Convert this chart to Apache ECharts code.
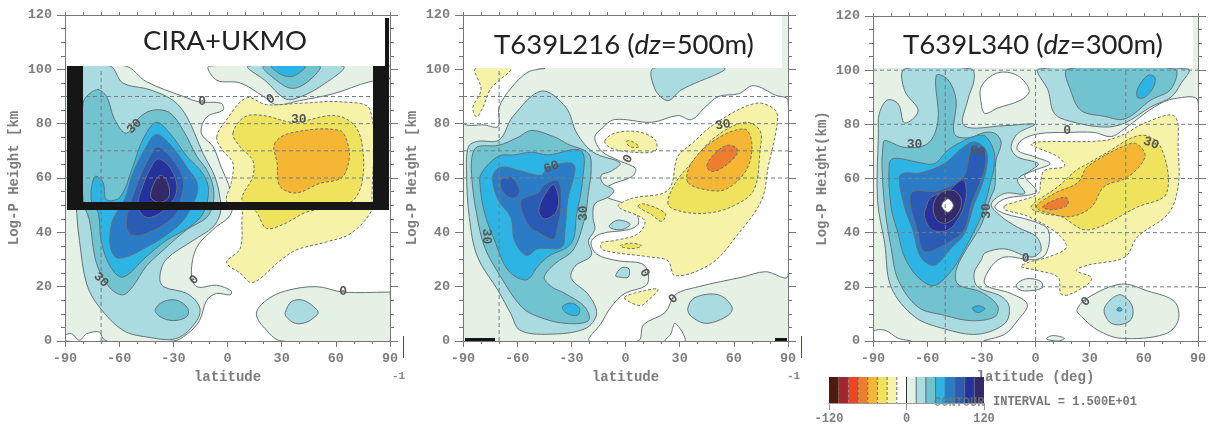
<!DOCTYPE html>
<html><head><meta charset="utf-8">
<style>html,body{margin:0;padding:0;background:#fff}#c{width:1211px;height:428px;filter:blur(0.5px)}</style>
<script src="https://cdn.jsdelivr.net/npm/echarts@6/dist/echarts.min.js"></script>
</head><body><div id="c"></div>
<script>
// ---------- colour scale ----------
const scaleEdges = [-120,-105,-90,-75,-60,-45,-30,-15,0,15,30,45,60,75,90,105];
const scaleColors = ['#4d1a10','#a5242b','#ef4526','#ee7d30','#f4b633','#efe25d','#f6f3a8','#ffffff','#e4f1e4','#a9dbe0','#70c3cf','#2bb4e4','#2a7cc6','#2a5cb5','#25319c','#352a68'];
const colourTicks = [-120,0,120];

// ---------- CIRA+UKMO contours [lat, km] ----------
const c_green_s=[[-90,101.2],[-56.5,101.2],[-45,95.5],[-24.5,90],[-15.5,88],[-3.5,87.5],[-2.5,85],[-11.5,82.5],[-14.5,76.5],[-8,71.5],[-3.5,64],[1.5,55.5],[2,47],[-8,41],[-17,34.5],[-20,25],[-17,20],[-6,20.5],[2,18.5],[1.5,17],[-6,17.5],[-11.5,15],[-15.5,7.5],[-22.5,2.5],[-30,0],[-90,0]];
const c_green_n=[[-10,101.2],[-6,96],[7,95],[20,90],[27,87],[40,88.5],[58.5,91],[79,95.5],[89,96],[90,101.2]];
const c_green_se=[[16,10],[21.5,15],[32.5,18.5],[49.5,20],[64,18],[89,18],[90,18],[90,0],[30,0],[21.5,4]];
const c_white_sw=[[-90,2],[-86.5,2.7],[-82,0.3],[-78,2.7],[-71,3.3],[-69,0.9],[-67,0],[-90,0]];
const c_15_main=[[-83.5,47],[-82,37],[-78,21],[-71,12.5],[-58,4],[-45,1.5],[-28,1],[-17,7.5],[-15.5,12.5],[-22.5,17.5],[-35.5,20],[-37.5,23.5],[-34,30],[-19,37],[-8,42],[-4,47],[-4,52],[-7,60.5],[-13.5,69],[-22.5,82.5],[-30,88.5],[-43,92.5],[-58,95],[-65,101.2],[-85,101.2],[-85,70]];
const c_30_main=[[-80,52],[-80,87.5],[-72.5,92.5],[-67,90],[-62.5,81.5],[-56,76.5],[-48.5,82.5],[-41,85],[-32,84],[-24.5,77.5],[-17,68],[-11.5,63],[-8,57],[-8,50.5],[-11.5,45.5],[-22.5,41],[-35.5,33.5],[-45,27.5],[-52.5,20],[-58,17],[-65,19.5],[-72.5,28.5],[-76.5,44.5]];
const c_30_isle=[[-40,11.5],[-35.5,14.5],[-28,15],[-22,12],[-22.5,9],[-30,7.5],[-37.5,9]];
const c_45_main=[[-75.5,52],[-73.5,60.5],[-69,58.5],[-67,52],[-59.5,53],[-52.5,64],[-47,74],[-39.5,80.5],[-32,76.5],[-22.5,68],[-13.5,61.5],[-10.5,55.5],[-13.5,47],[-21,42],[-34,37],[-45,31],[-58,23.5],[-65,27.5],[-70,37],[-71.5,47]];
const c_60_main=[[-57,52],[-52.5,61.5],[-45,71.5],[-39.5,76],[-32,72.5],[-22.5,64],[-16.5,57],[-21,48],[-28,42],[-45,34.5],[-60.5,30.5],[-65,35],[-63.5,44.5]];
const c_75_main=[[-56,42],[-55,48],[-48.5,60.5],[-43,68],[-38.5,71.5],[-30,66.5],[-24.5,59],[-26.5,50.5],[-30,45.5],[-45,39.5],[-53,39]];
const c_90_main=[[-49.5,49.5],[-47,57],[-41,65.5],[-37.5,67],[-31,63],[-28,57],[-30,52],[-37.5,47],[-45,45.5]];
const c_105_main=[[-42.5,53],[-40,59],[-36.5,61],[-33,58],[-32.5,53],[-37.5,51]];
const c_15_top=[[11.5,101.2],[21.5,95.5],[31,89.5],[36.5,89],[51,93.5],[64,101.2]];
const c_30_top=[[20,101.2],[29,95],[36.5,93],[45.5,96],[51,101.2]];
const c_45_top=[[24.5,101.2],[30,98],[36.5,97.5],[43,101.2]];
const c_15_se=[[32,10.5],[35.5,14.5],[42,15],[49.5,11.5],[50,10],[44,7],[37.5,6.5],[32.5,9]];
const c_n15=[[-6,75],[-0.5,81.5],[10.5,89.5],[21.5,87],[40,87.5],[64,88],[79,85],[80,52],[79,47],[68,39.5],[55,36.5],[38,33.5],[29,29.5],[14,21.5],[7,25],[-0.5,29],[7,34],[8,45.5],[8,48],[-0.5,51.5],[2,58],[3,65.5],[-2.5,70]];
const c_n30=[[3,76.5],[9.5,82.5],[20,83],[36.5,80.5],[58.5,83],[69.5,80],[74.5,72.5],[74.5,58.5],[68,51],[44,47.5],[31,43],[21.5,41.5],[16,47.5],[8,52],[14,60.5],[14,66.5],[7,71.5]];
const c_n45=[[26,72.5],[34.5,76.5],[62,77.5],[67,71.5],[67,65.5],[63,60],[51,58],[38,54.5],[29,57],[27.5,65.5]];

// ---------- T639L216 contours ----------
const m_base=[[-90,0],[90,0],[90,120],[-90,120]];
const m_white_nw=[[-90,100.4],[-90,80.5],[-78,79.5],[-70.5,79],[-70,86],[-63.5,93],[-54,99],[-45,100.4]];
const m_n15_nw=[[-83,100.4],[-80,92.5],[-84.5,86],[-82.5,82.5],[-79,86],[-74.5,93],[-63.5,100.4]];
const m_white_mid=[[90,88.5],[83,90.5],[71,94],[62.5,91],[51.5,90],[44,86],[36.5,81.5],[29,83],[14.5,80.5],[-6,81.5],[-13.5,78],[-17,75],[-13.5,70],[-4,66.5],[5.5,63.5],[3.5,60.5],[-9.5,57],[-11.5,53.5],[-0.5,50.5],[6,47],[7,43],[1.5,41],[-13.5,39.5],[-19,36.5],[-16,32],[-4,29.5],[9,28.5],[12.5,25],[11.5,20.5],[-0.5,17.5],[-8,12.5],[-13.5,6.5],[-20,0],[7,0],[10,6],[22,10.5],[27.5,17],[40.5,20],[64.5,23.5],[77.5,25.5],[90,24]];
const m_white_tri=[[22,0],[25,2.5],[27.5,6.5],[33,0]];
const m_15_main=[[-88,61.5],[-87,71.5],[-82,73.5],[-70,74],[-62.5,82.5],[-46.5,92],[-33,86],[-27,76.5],[-18,69.5],[-3,65.5],[-8,62.5],[-13.5,61],[-12.5,58],[-6.5,55.5],[-9.5,53],[-17,50.5],[-18,45.5],[-17,41],[-20.5,37],[-19,31.5],[-28,27.5],[-30,23],[-20.5,17],[-16,10],[-22.5,4.5],[-43,2.5],[-58.5,4],[-63.5,10],[-70.5,18.5],[-82,31],[-86.5,45.5]];
const m_15_a=[[-9,42.5],[-4,44.5],[2.5,43],[-2,41],[-8,41.5]];
const m_15_b=[[-5.5,24],[-2,27],[2,26.5],[1.5,23.5],[-3,23.5]];
const m_15_se=[[34.5,12],[38.5,16],[51.5,17],[59,12.5],[57,9.5],[45,6.5],[36.5,9]];
const m_15_top=[[15.5,100.4],[16.5,92.5],[23.5,88.5],[31,92.5],[55,100.4]];
const m_30_main=[[-85,68],[-82,71.5],[-70.5,72],[-59.5,75],[-52,77.5],[-39,75],[-32,72.5],[-20.5,69],[-19,63],[-20.5,55],[-22.5,45.5],[-29,33.5],[-39,28.5],[-45,23.5],[-41,20],[-33.5,17.5],[-22.5,12.5],[-20.5,7.5],[-33.5,6.5],[-48.5,9],[-57.5,12.5],[-69,23.5],[-78,34.5],[-82.5,47],[-85,59]];
const m_45_main=[[-80,61.5],[-70.5,68],[-61.5,68.5],[-52,69.5],[-43,68.5],[-24.5,70],[-24,58],[-27,47],[-30,36],[-43,31],[-48.5,27.5],[-55,22.5],[-65,26],[-72.5,37],[-78,47],[-80.5,57]];
const m_45_isle=[[-35,12.5],[-30,14],[-25.5,12],[-26.5,9.5],[-32,10]];
const m_60_main=[[-73.5,60.5],[-69,64],[-57.5,62.5],[-46.5,61],[-43,64],[-30,65.5],[-28,63],[-32,52],[-33.5,41],[-35.5,34.5],[-48.5,34],[-55,31.5],[-61.5,37],[-63.5,45.5],[-70.5,52]];
const m_75_left=[[-69,59],[-63.5,60.5],[-58.5,55],[-62.5,52.5],[-68,55]];
const m_75_main=[[-57.5,52],[-48.5,54.5],[-45,57.5],[-37.5,59],[-35.5,52],[-37.5,42],[-40,37.5],[-48.5,40],[-53,42],[-57,47]];
const m_90_main=[[-48,48],[-45,53.5],[-40,57.5],[-37,52],[-39,47],[-45,45]];
const m_n15=[[-4,49.5],[3.5,52.5],[23.5,55.5],[29,68],[36.5,72.5],[49.5,80],[72,87.5],[83,85],[84,80],[79,64],[75.5,52],[62.5,39.5],[47.5,28.5],[27.5,24],[23.5,29.5],[12.5,31],[-12.5,33.5],[-13.5,36],[-6,37],[7,39.5],[10.5,44.5]];
const m_n15_a=[[-11.5,73.5],[-6,76.5],[7,77],[16.5,74],[16.5,70],[3.5,69.5],[-8,71]];
const m_n15_b=[[-0.5,16],[10.5,18.5],[18,19],[12.5,15],[8,13]];
const m_n30=[[23.5,50.5],[27.5,58],[36.5,65.5],[49.5,75],[66,80.5],[74.5,77.5],[74.5,70],[71,55.5],[59,49.5],[44,47],[29,48]];
const m_n30_a=[[7,49.5],[10,50.5],[22,47],[20,44],[14.5,46.5]];
const m_n30_b=[[-3,35],[3.5,36],[9,35],[3.5,34]];
const m_n30_c=[[0.5,73.5],[3.5,73.5],[7.5,71.5],[2.5,71.5]];
const m_n45=[[34.5,58.5],[36.5,65.5],[49.5,74],[66,78],[70,72.5],[67,63],[56,56],[46,55.5]];
const m_n60=[[45,64.5],[49.5,69],[56,72],[61.5,71],[61.5,68.5],[53,63.5],[47.5,62.5]];

// ---------- T639L340 contours ----------
const r_base=[[-90,0],[90,0],[90,120],[-90,120]];
const r_white_isle=[[-30,87.5],[-30,94],[-21,99],[-10,98],[-3.5,92.5],[-8,89],[-21,86],[-28,84]];
const r_white_mid=[[90,88.5],[77,89.5],[66,86.5],[49.5,78.5],[42,75.5],[32.5,77],[18,77],[1.5,76.5],[-8,74],[-10,70.5],[-0.5,68],[8,65.5],[-0.5,63],[-6,61],[0.5,55],[-17,52.5],[-22.5,49.5],[-17,47],[-2.5,44.5],[7,41],[6,32.5],[-0.5,30],[-17,31],[-24.5,27.5],[-28,21],[-13.5,17.5],[-4.5,13.5],[-10,7.5],[-17,2.5],[-28,0],[90,0]];
const r_green_se=[[23,11.5],[29,16],[47.5,21],[62,18.5],[77,14.5],[79,7.5],[71.5,2.5],[47.5,1],[34.5,4],[25.5,9]];
const r_green_oval=[[-10.5,21],[-5,23],[3,22],[3.5,19.5],[-6,18.5],[-10,19.5]];
const r_green_foot=[[6,0.8],[9.5,2],[16,1],[12.5,0]];
const r_white_sw=[[-90,3.5],[-83.5,4],[-76,1],[-69,0],[-90,0]];
const r_15_main=[[-87,76.5],[-86.5,84],[-82,89],[-76,87.5],[-72.5,80.5],[-65,85],[-72.5,92.5],[-72.5,100.4],[-35.5,100.4],[-34,96.5],[-37.5,89],[-39.5,79.5],[-17,79.5],[-0.5,80],[-10,76.5],[-13.5,71.5],[-10,68],[1.5,65.5],[-2.5,63],[-10,59.5],[-6,54.5],[-17,54.5],[-24.5,50.5],[-19,46],[-10,42],[0.5,38.5],[3,33.5],[-2.5,31],[-17,34],[-28,32.5],[-30,30],[-34,25],[-32,20],[-19,16.5],[-14.5,12.5],[-17,6.5],[-32,2.5],[-50.5,4.5],[-67,9],[-80,20],[-83.5,36],[-87.5,52]];
const r_15_top=[[2,100.4],[7,92.5],[10.5,84],[20,81],[38,79],[49.5,80.5],[64,86.5],[75,90],[80.5,95],[84.5,100.4]];
const r_15_se=[[38,11.5],[42,15.5],[47.5,17],[53.5,13],[53,8],[46.5,6],[41,7]];
const r_30_main=[[-84.5,71.5],[-83.5,74],[-72.5,71.5],[-59.5,73],[-54,81.5],[-55,98],[-48.5,96.5],[-44,89],[-45,76.5],[-37.5,75],[-28,77],[-22,76.5],[-19,73],[-22,66.5],[-22.5,57],[-25.5,52],[-29,44.5],[-32,40.5],[-39.5,32.5],[-44,26],[-43,21],[-30,18],[-21,13],[-22.5,9],[-35.5,7.5],[-50.5,9.5],[-65,12.5],[-76,22.5],[-80,34.5],[-83.5,49.5],[-85,64.5]];
const r_30_top=[[18,100.4],[20,91.5],[25.5,85],[38,83],[49.5,82],[64,89],[75,93],[77,100.4]];
const r_45_main=[[-81,65.5],[-78,67.5],[-65,66],[-56,65.5],[-48.5,70.5],[-41,73.5],[-34,75.5],[-27.5,75.5],[-22.5,68],[-25.5,57],[-28,50.5],[-30,46],[-39.5,33.5],[-46.5,26],[-56,20.5],[-65,23.5],[-72.5,31],[-76,39.5],[-80,49.5]];
const r_45_isle=[[-35,12],[-32,13],[-28,12],[-32,10.5]];
const r_45_top=[[56.5,90],[56.5,93],[62,98],[66,97.5],[65.5,94],[60.5,90]];
const r_45_dot=[[45,11.5],[46.5,12.5],[48,11.5],[46.5,11]];
const r_60_main=[[-75.5,60.5],[-72.5,62],[-64,62],[-50.5,65.5],[-41,71],[-34,73.5],[-27.5,70.5],[-27,64.5],[-30,57],[-34,50.5],[-39.5,39.5],[-46.5,34.5],[-56,28],[-63.5,31],[-68,41],[-72.5,49.5]];
const r_75_main=[[-69,54.5],[-54,55.5],[-40,60.5],[-35.5,70.5],[-29,71],[-27.5,65.5],[-31,58],[-35.5,50.5],[-39.5,41],[-50.5,35.5],[-61.5,33],[-65,39.5]];
const r_90_main=[[-60.5,49.5],[-58,53],[-48.5,55.5],[-40,59.5],[-38.5,53],[-42,46],[-48.5,41],[-57,41],[-61.5,46]];
const r_105_main=[[-56.5,50.5],[-52,55],[-45,55.5],[-41,52],[-43,47],[-49.5,43.5],[-55,45]];
const r_core=[[-52,50],[-48.5,52.5],[-45.5,50],[-48.5,47.5]];
const r_n15=[[-17,50],[-10,51.5],[1.5,54.5],[3,59.5],[5,63],[16,64.5],[12.5,68],[-2.5,72.5],[1.5,73.5],[38,74],[49.5,76.5],[60.5,80.5],[77,83],[79,70.5],[79,57],[73.5,47],[56.5,38.5],[49.5,31],[29,28],[22.5,26],[31,23.5],[29,21],[18,17],[14,17.5],[12.5,23.5],[1.5,26],[-8,27.5],[-4,29],[7,31],[17,34.5],[12.5,39.5],[-4,46],[-17,48.5]];
const r_n30=[[-2.5,49.5],[12.5,57],[22.5,63],[29,65.5],[38,69],[58.5,76],[69.5,71.5],[72.5,54.5],[56.5,49.5],[29,41],[14,46],[5,47]];
const r_n45=[[0.5,49.5],[10.5,54.5],[23.5,58.5],[29,64.5],[53,73],[58.5,71.5],[60.5,67.5],[51,60.5],[38,57],[31,49.5],[20,46],[8.5,47]];
const r_n60=[[4,49.5],[10.5,52],[17,53],[18,50.5],[14,49],[8,48.5]];

// ---------- drawing order: [lower edge of the band, outline] ----------
const ciraContours=[[0,c_green_s],[0,c_green_n],[0,c_green_se],[-15,c_white_sw],[15,c_15_main],[30,c_30_main],[30,c_30_isle],[45,c_45_main],[60,c_60_main],[75,c_75_main],[90,c_90_main],[105,c_105_main],[15,c_15_top],[30,c_30_top],[45,c_45_top],[15,c_15_se],[-30,c_n15],[-45,c_n30],[-60,c_n45]];
const midContours=[[0,m_base,'flat'],[-15,m_white_nw],[-30,m_n15_nw],[-15,m_white_mid],[-15,m_white_tri],[15,m_15_main],[15,m_15_a],[15,m_15_b],[15,m_15_se],[15,m_15_top],[30,m_30_main],[45,m_45_main],[45,m_45_isle],[60,m_60_main],[75,m_75_left],[75,m_75_main],[90,m_90_main],[-30,m_n15],[-30,m_n15_a],[-30,m_n15_b],[-45,m_n30],[-45,m_n30_a],[-45,m_n30_b],[-45,m_n30_c],[-60,m_n45],[-75,m_n60]];
const rightContours=[[0,r_base,'flat'],[-15,r_white_mid],[-15,r_white_isle],[-15,r_white_sw],[0,r_green_se],[0,r_green_oval],[0,r_green_foot],[15,r_15_main],[15,r_15_top],[15,r_15_se],[30,r_30_main],[30,r_30_top],[45,r_45_main],[45,r_45_isle],[45,r_45_top],[45,r_45_dot],[60,r_60_main],[75,r_75_main],[90,r_90_main],[105,r_105_main],[-15,r_core],[-30,r_n15],[-45,r_n30],[-60,r_n45],[-75,r_n60]];

// ---------- contour labels [lat, km, text, turn in degrees] ----------
const ciraLabels=[[-14,88,'0',0],[24,89,'0',30],[39.5,81.5,'30',0],[-51.5,79,'30',45],[-70,22.5,'30',-45],[-18.5,22.5,'0',45],[64,18,'0',0]];
const midLabels=[[1.5,67,'0',60],[10.5,25,'0',-60],[26.5,15.5,'0',45],[54,79.5,'30',10],[-41,64,'60',20],[-23,47,'30',90],[-77,38.5,'30',-90]];
const rightLabels=[[17.5,77.5,'0',0],[64,73,'30',-20],[-5.5,30.5,'0',0],[28,14.5,'0',45],[-67,72.5,'30',0],[-32,70,'60',-10],[-27,48,'30',90]];

// ---------- dashed reference lines ----------
const ciraGridH=[60,70,80,90], ciraGridV=[-70];
const midGridH=[60,70,80,90], midGridV=[-70];
const rightGridH=[20,40,60,80,100], rightGridV=[-50,0,50];

const titles=['CIRA+UKMO','{a|T639L216 (}{i|dz}{a|=500m)}','{a|T639L340 (}{i|dz}{a|=300m)}'];
const yNames=['Log-P Height [km','Log-P Height [km','Log-P Height(km)'];
const xNames=['latitude','latitude','latitude (deg)'];

const MONO='"Liberation Mono","DejaVu Sans Mono",monospace';
const AX='#777', LINE='#64727a', TXT='#7d7d7d';
const bandColor=v=>scaleColors[scaleEdges.indexOf(v)];

const frames=[{left:65,top:15,w:325,h:326},{left:463,top:15,w:325,h:326},{left:873,top:16,w:325,h:325}];
const panels=[
 {c:ciraContours,l:ciraLabels,gh:ciraGridH,gv:ciraGridV},
 {c:midContours,l:midLabels,gh:midGridH,gv:midGridV},
 {c:rightContours,l:rightLabels,gh:rightGridH,gv:rightGridV}];

const grid=[],xAxis=[],yAxis=[],series=[],title=[];
const tstyle={fontFamily:'Lato',fontSize:27.5,fontWeight:'normal',color:'#222'};
panels.forEach((p,i)=>{
  const f=frames[i];
  grid.push({left:f.left,top:f.top,width:f.w,height:f.h,show:false});
  const line={lineStyle:{color:AX,width:1}};
  const xbase={type:'value',min:-90,max:90,interval:30,gridIndex:i,z:5,splitLine:{show:false},axisLine:{onZero:false,...line},
    minorTick:{show:true,splitNumber:3,length:3,lineStyle:{color:AX}}};
  xAxis.push({...xbase,position:'bottom',axisTick:{length:6,...line},
    name:xNames[i],nameLocation:'middle',nameGap:27,nameTextStyle:{fontFamily:MONO,fontSize:14,fontWeight:'bold',color:TXT},
    axisLabel:{fontFamily:MONO,fontSize:13.5,fontWeight:'bold',color:TXT,margin:11}});
  xAxis.push({...xbase,position:'top',axisTick:{length:3,...line},axisLabel:{show:false}});
  const ybase={type:'value',min:0,max:120,interval:20,gridIndex:i,z:5,splitLine:{show:false},axisLine:{onZero:false,...line},
    minorTick:{show:true,splitNumber:4,length:4,lineStyle:{color:AX}}};
  yAxis.push({...ybase,position:'left',axisTick:{length:8,...line},
    name:yNames[i],nameLocation:'middle',nameGap:44,nameTextStyle:{fontFamily:MONO,fontSize:14,fontWeight:'bold',color:TXT},
    axisLabel:{fontFamily:MONO,fontSize:13.5,fontWeight:'bold',color:TXT,margin:13}});
  yAxis.push({...ybase,position:'right',axisTick:{length:8,...line},axisLabel:{show:false}});
  const xi=i*2, yi=i*2;
  series.push({type:'custom',xAxisIndex:xi,yAxisIndex:yi,z:2,clip:true,silent:true,
    data:p.c.map(c=>[c[1][0][0],c[1][0][1],c[0]]),
    renderItem(params,api){
      const c=p.c[params.dataIndex], flat=c[2]==='flat', lv=c[0];
      return {type:'polygon',shape:{points:c[1].map(q=>api.coord(q)),smooth:flat?0:0.35},
        style:{fill:bandColor(lv),stroke:flat?null:LINE,lineWidth:1,lineDash:lv<-15?[3,2]:null}};
    }});
  const gl=[...p.gh.map(v=>[0,v,0]),...p.gv.map(v=>[v,0,1])];
  series.push({type:'custom',xAxisIndex:xi,yAxisIndex:yi,z:3,clip:true,silent:true,data:gl,
    renderItem(params,api){
      const d=gl[params.dataIndex];
      const a=d[2]?api.coord([d[0],0]):api.coord([-90,d[1]]);
      const b=d[2]?api.coord([d[0],100]):api.coord([90,d[1]]);
      return {type:'line',shape:{x1:a[0],y1:a[1],x2:b[0],y2:b[1]},style:{stroke:'#6f7f8a',lineWidth:1,lineDash:[4,3]}};
    }});
  series.push({type:'custom',xAxisIndex:xi,yAxisIndex:yi,z:4,silent:true,data:p.l,
    renderItem(params,api){
      const d=p.l[params.dataIndex], q=api.coord([d[0],d[1]]);
      return {type:'text',x:q[0],y:q[1],rotation:d[3]*Math.PI/180,
        style:{text:d[2],fill:'#555',font:'bold 13px '+MONO,align:'center',verticalAlign:'middle'}};
    }});
});
title.push({text:titles[0],left:220,top:22,textAlign:'center',z:60,textStyle:tstyle});
title.push({text:titles[1],left:619,top:26,textAlign:'center',z:60,textStyle:{rich:{a:{...tstyle},i:{...tstyle,fontStyle:'italic'}}}});
title.push({text:titles[2],left:1028,top:26,textAlign:'center',z:60,textStyle:{rich:{a:{...tstyle},i:{...tstyle,fontStyle:'italic'}}}});

// colour bar
grid.push({left:829,top:377,width:155,height:26,show:false});
xAxis.push({type:'value',gridIndex:3,min:-120,max:120,interval:120,z:12,splitLine:{show:false},
  axisLine:{onZero:false,lineStyle:{color:'#999'}},axisTick:{length:7,lineStyle:{color:'#999'}},
  axisLabel:{fontFamily:MONO,fontSize:12,fontWeight:'bold',color:TXT,margin:10,customValues:colourTicks}});
yAxis.push({type:'value',gridIndex:3,min:0,max:1,show:false});
const barData=scaleEdges.map((e,k)=>[e,e+15,k]);
series.push({type:'custom',xAxisIndex:6,yAxisIndex:6,z:10,silent:true,data:barData,
  renderItem(params,api){
    const d=barData[params.dataIndex];
    const a=api.coord([d[0],1]), b=api.coord([d[1],0]);
    const kids=[{type:'rect',shape:{x:a[0],y:a[1],width:b[0]-a[0],height:b[1]-a[1]},style:{fill:scaleColors[d[2]]}}];
    if(d[0]>-120) kids.push({type:'line',shape:{x1:a[0],y1:a[1],x2:a[0],y2:b[1]},
      style:{stroke:d[0]===0?'#333':'#5f6b70',lineWidth:1,lineDash:d[0]<0?[3,2]:null}});
    return {type:'group',children:kids};
  }});

// overlay pasted on the original figure
const K='#161616';
const rect=(x,y,w,h,fill,z)=>({type:'rect',z:z||50,shape:{x,y,width:w,height:h},style:{fill}});
const txt=(x,y,t,size,color,z)=>({type:'text',x,y,z:z||6,style:{text:t,font:'bold '+size+'px '+MONO,fill:color,verticalAlign:'middle'}});
const graphic=[
  rect(66,16,319,50,'#fff'),
  rect(67,66,16,144,K),rect(373,66,16,144,K),rect(67,202,322,8,K),rect(385,18,4,48,K),
  rect(464,16,318,52,'#fff'),
  rect(874,17,319,51,'#fff'),
  rect(465,338,30,3,K),rect(775,338,12,3,K),
  rect(403,336,1,22,'#8a2a3a'),rect(801,336,1,22,'#8a2a3a'),
  txt(392,376,'-1',11,'#888'),txt(787,376,'-1',11,'#888'),
  txt(934,403,'CONTOUR',12,'rgba(110,120,120,0.75)',11),
  txt(993,402,'INTERVAL = 1.500E+01',12,'#777',6)
];

const chart=echarts.init(document.getElementById('c'),null,{renderer:'canvas'});
chart.setOption({animation:false,backgroundColor:'#fff',title,grid,xAxis,yAxis,series,graphic:{elements:graphic},tooltip:{show:false}});
</script></body></html>
